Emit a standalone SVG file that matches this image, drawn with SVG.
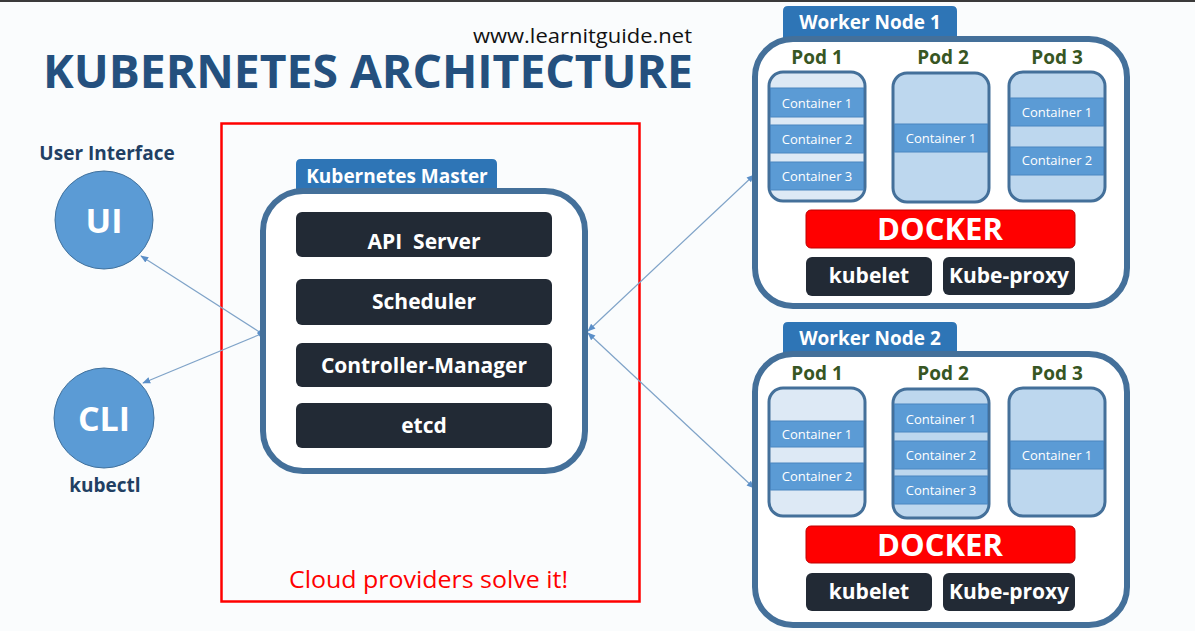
<svg xmlns="http://www.w3.org/2000/svg" width="1195" height="631" viewBox="0 0 1195 631">
<defs>
<style>
.t{font-family:"Open Sans","Liberation Sans",sans-serif;}
.b{font-family:"Open Sans","Liberation Sans",sans-serif;font-weight:bold;}
.frame{fill:#ffffff;stroke:#44709a;stroke-width:6;}
.tab{fill:#2e75b6;}
.tabtxt{fill:#ffffff;font-size:19px;text-anchor:middle;}
.dark{fill:#222a35;}
.darktxt{fill:#ffffff;font-size:21px;text-anchor:middle;}
.pod{stroke:#44709a;stroke-width:3;}
.podA{fill:#dde9f5;}
.podB{fill:#bdd7ee;}
.cont{fill:#5b9bd5;stroke:#4a86c0;stroke-width:1;}
.ctxt{fill:#ffffff;font-size:13px;text-anchor:middle;font-family:"Open Sans","Liberation Sans",sans-serif;}
.podlbl{fill:#375623;font-size:19px;text-anchor:middle;}
.docker{fill:#ff0000;stroke:#c00000;stroke-width:1;}
.dtxt{fill:#ffffff;font-size:31px;text-anchor:middle;}
.conn{stroke:#7fa3c8;stroke-width:1.2;fill:none;}
.circ{fill:#5b9bd5;stroke:#41719c;stroke-width:1;}
</style>
<marker id="ah" viewBox="0 0 10 10" refX="9" refY="5" markerWidth="8" markerHeight="8" orient="auto-start-reverse" markerUnits="userSpaceOnUse">
<path d="M0,1 L10,5 L0,9 Z" fill="#5b8fc8"/>
</marker>
</defs>
<rect x="0" y="0" width="1195" height="631" fill="#fafcfd"/>
<rect x="0" y="0" width="1195" height="2" fill="#3a3a3a"/>

<g id="title">
<text class="t" x="692" y="43" font-size="20" text-anchor="end" fill="#111111" textLength="219" lengthAdjust="spacingAndGlyphs">www.learnitguide.net</text>
<text class="b" x="43" y="88" font-size="47" fill="#24507e" textLength="650" lengthAdjust="spacingAndGlyphs">KUBERNETES ARCHITECTURE</text>
</g>

<g id="cloud-box">
<rect x="221.5" y="123.5" width="418" height="478" fill="none" stroke="#ff0000" stroke-width="2.5"/>
<text class="t" x="289" y="588" font-size="23" fill="#ff0000" textLength="279" lengthAdjust="spacingAndGlyphs">Cloud providers solve it!</text>
</g>

<g id="connectors">
<line class="conn" x1="261" y1="333" x2="141" y2="256" marker-end="url(#ah)"/>
<line class="conn" x1="261" y1="334" x2="143" y2="383" marker-end="url(#ah)"/>
<path d="M261,329 L265,333 L261,338 L257,333 Z" fill="#5b8fc8"/>
<line class="conn" x1="588" y1="331" x2="754" y2="175" marker-start="url(#ah)" marker-end="url(#ah)"/>
<line class="conn" x1="588" y1="333" x2="754" y2="488" marker-start="url(#ah)" marker-end="url(#ah)"/>
</g>

<g id="ui">
<text class="b" x="107" y="160" font-size="19" text-anchor="middle" fill="#213f63">User Interface</text>
<circle class="circ" cx="104" cy="220" r="49"/>
<text class="b" x="104" y="233" font-size="34" text-anchor="middle" fill="#ffffff">UI</text>
</g>

<g id="cli">
<circle class="circ" cx="104" cy="418" r="50"/>
<text class="b" x="104" y="431" font-size="34" text-anchor="middle" fill="#ffffff">CLI</text>
<text class="b" x="105" y="492" font-size="19" text-anchor="middle" fill="#213f63">kubectl</text>
</g>

<g id="master">
<path class="tab" d="M296,192 L296,164 Q296,159 301,159 L492,159 Q497,159 497,164 L497,192 Z"/>
<rect class="frame" x="263" y="191" width="322" height="280" rx="40"/>
<text class="b tabtxt" x="397" y="183">Kubernetes Master</text>
<rect class="dark" x="296" y="212" width="256" height="45" rx="6"/>
<text class="b darktxt" x="424" y="249" style="white-space:pre">API  Server</text>
<rect class="dark" x="296" y="279" width="256" height="46" rx="6"/>
<text class="b darktxt" x="424" y="309">Scheduler</text>
<rect class="dark" x="296" y="343" width="256" height="44" rx="6"/>
<text class="b darktxt" x="424" y="373">Controller-Manager</text>
<rect class="dark" x="296" y="403" width="256" height="45" rx="6"/>
<text class="b darktxt" x="424" y="433">etcd</text>
</g>

<g id="worker1">
<path class="tab" d="M783,40 L783,11 Q783,6 788,6 L952,6 Q957,6 957,11 L957,40 Z"/>
<rect class="frame" x="755" y="39" width="372" height="267" rx="38"/>
<text class="b tabtxt" x="870" y="29">Worker Node 1</text>
<text class="b podlbl" x="817" y="64">Pod 1</text>
<text class="b podlbl" x="943" y="64">Pod 2</text>
<text class="b podlbl" x="1057" y="64">Pod 3</text>
<g id="w1-pod1">
<rect class="pod podA" x="769" y="72" width="96" height="129" rx="14"/>
<rect class="cont" x="770.5" y="88" width="93" height="29"/>
<text class="ctxt" x="817" y="108">Container 1</text>
<rect class="cont" x="770.5" y="125" width="93" height="28"/>
<text class="ctxt" x="817" y="144">Container 2</text>
<rect class="cont" x="770.5" y="162" width="93" height="28"/>
<text class="ctxt" x="817" y="181">Container 3</text>
</g>
<g id="w1-pod2">
<rect class="pod podB" x="893" y="73" width="96" height="129" rx="14"/>
<rect class="cont" x="894.5" y="124" width="93" height="28"/>
<text class="ctxt" x="941" y="143">Container 1</text>
</g>
<g id="w1-pod3">
<rect class="pod podB" x="1009" y="72" width="96" height="129" rx="14"/>
<rect class="cont" x="1010.5" y="98" width="93" height="28"/>
<text class="ctxt" x="1057" y="117">Container 1</text>
<rect class="cont" x="1010.5" y="147" width="93" height="28"/>
<text class="ctxt" x="1057" y="165">Container 2</text>
</g>
<rect class="docker" x="806" y="210" width="269" height="38" rx="5"/>
<text class="b dtxt" x="940" y="240">DOCKER</text>
<rect class="dark" x="806" y="257" width="126" height="39" rx="6"/>
<text class="b darktxt" x="869" y="283">kubelet</text>
<rect class="dark" x="943" y="257" width="132" height="38" rx="6"/>
<text class="b darktxt" x="1009" y="283">Kube-proxy</text>
</g>

<g id="worker2">
<path class="tab" d="M783,355 L783,327 Q783,322 788,322 L952,322 Q957,322 957,327 L957,355 Z"/>
<rect class="frame" x="755" y="354" width="372" height="271" rx="38"/>
<text class="b tabtxt" x="870" y="345">Worker Node 2</text>
<text class="b podlbl" x="817" y="380">Pod 1</text>
<text class="b podlbl" x="943" y="380">Pod 2</text>
<text class="b podlbl" x="1057" y="380">Pod 3</text>
<g id="w2-pod1">
<rect class="pod podA" x="769" y="388" width="96" height="128" rx="14"/>
<rect class="cont" x="770.5" y="421" width="93" height="26"/>
<text class="ctxt" x="817" y="439">Container 1</text>
<rect class="cont" x="770.5" y="463" width="93" height="27"/>
<text class="ctxt" x="817" y="481">Container 2</text>
</g>
<g id="w2-pod2">
<rect class="pod podB" x="893" y="389" width="96" height="129" rx="14"/>
<rect class="cont" x="894.5" y="404" width="93" height="28"/>
<text class="ctxt" x="941" y="424">Container 1</text>
<rect class="cont" x="894.5" y="441" width="93" height="28"/>
<text class="ctxt" x="941" y="460">Container 2</text>
<rect class="cont" x="894.5" y="476" width="93" height="28"/>
<text class="ctxt" x="941" y="495">Container 3</text>
</g>
<g id="w2-pod3">
<rect class="pod podB" x="1009" y="388" width="96" height="128" rx="14"/>
<rect class="cont" x="1010.5" y="441" width="93" height="28"/>
<text class="ctxt" x="1057" y="460">Container 1</text>
</g>
<rect class="docker" x="806" y="526" width="269" height="37" rx="5"/>
<text class="b dtxt" x="940" y="556">DOCKER</text>
<rect class="dark" x="806" y="573" width="126" height="38" rx="6"/>
<text class="b darktxt" x="869" y="599">kubelet</text>
<rect class="dark" x="943" y="573" width="132" height="38" rx="6"/>
<text class="b darktxt" x="1009" y="599">Kube-proxy</text>
</g>
</svg>
